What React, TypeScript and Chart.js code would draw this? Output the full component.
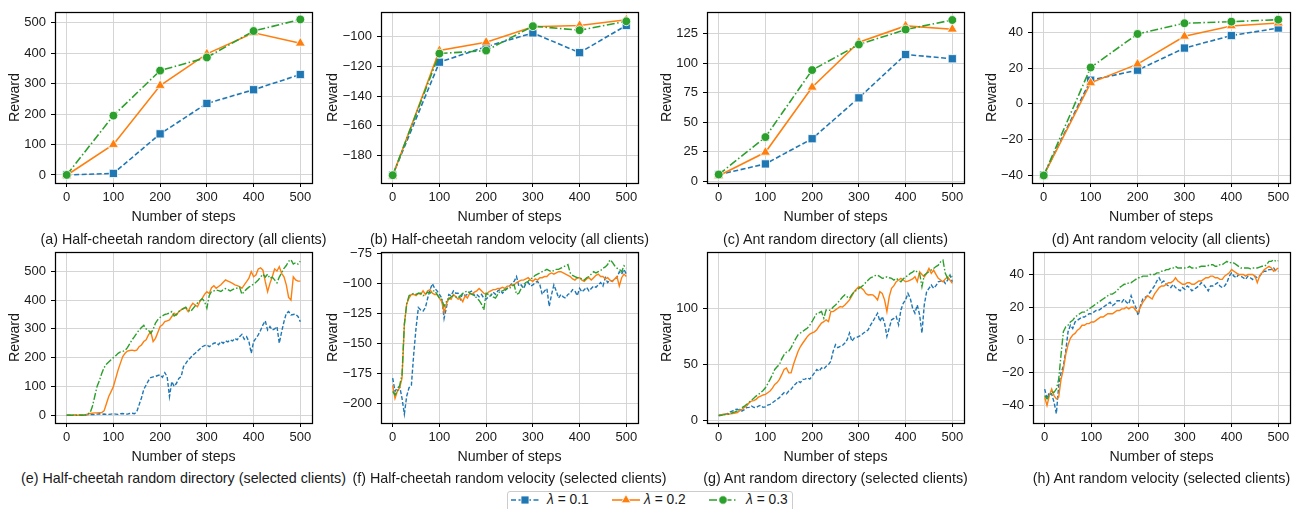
import React, { useEffect, useRef } from "react";
import { Chart, registerables } from "chart.js";

Chart.register(...registerables);

const FONT = '"Liberation Sans", Arial, Helvetica, sans-serif';
const BLUE = "#1f77b4";
const ORANGE = "#ff7f0e";
const GREEN = "#2ca02c";
const TEXT = "#1a1a1a";

// ---------- x axis ----------
const xTickValues = [0, 100, 200, 300, 400, 500];
const xTickLabels = ["0", "100", "200", "300", "400", "500"];
const coarseSteps = [0, 100, 200, 300, 400, 500];
const fineSteps = [
  0, 5, 10, 15, 20, 25, 30, 35, 40, 45, 50, 55, 60, 65, 70, 75, 80, 85, 90, 95,
  100, 105, 110, 115, 120, 125, 130, 135, 140, 145, 150, 155, 160, 165, 170, 175, 180, 185, 190, 195,
  200, 205, 210, 215, 220, 225, 230, 235, 240, 245, 250, 255, 260, 265, 270, 275, 280, 285, 290, 295,
  300, 305, 310, 315, 320, 325, 330, 335, 340, 345, 350, 355, 360, 365, 370, 375, 380, 385, 390, 395,
  400, 405, 410, 415, 420, 425, 430, 435, 440, 445, 450, 455, 460, 465, 470, 475, 480, 485, 490, 495,
  500,
];

// ---------- (a) Half-cheetah random directory (all clients) ----------
const aBlue = [0, 5, 135, 235, 280, 330];
const aOrange = [-1, 100, 294, 398, 467, 433];
const aGreen = [0, 195, 343, 386, 473, 511];
const aTicks = [0, 100, 200, 300, 400, 500];
const aTickLabels = ["0", "100", "200", "300", "400", "500"];

// ---------- (b) Half-cheetah random velocity (all clients) ----------
const bBlue = [-193, -117.4, -107, -97.8, -111, -92.8];
const bOrange = [-193.5, -109.6, -104, -93.7, -92.8, -89];
const bGreen = [-193, -111.6, -109.6, -93.3, -96, -90];
const bTicks = [-180, -160, -140, -120, -100];
const bTickLabels = ["\u2212180", "\u2212160", "\u2212140", "\u2212120", "\u2212100"];

// ---------- (c) Ant random directory (all clients) ----------
const cBlue = [5.5, 14.6, 36, 70.7, 107.5, 103.9];
const cOrange = [4.5, 24.5, 79.7, 118, 131.8, 129];
const cGreen = [5.6, 37.4, 94.3, 116, 128.7, 136.8];
const cTicks = [0, 25, 50, 75, 100, 125];
const cTickLabels = ["0", "25", "50", "75", "100", "125"];

// ---------- (d) Ant random velocity (all clients) ----------
const dBlue = [-40, 13.2, 18.8, 31.2, 38.2, 42.4];
const dOrange = [-40.2, 11.7, 22.2, 37.8, 43.6, 45.2];
const dGreen = [-40.2, 20.3, 39.1, 45.1, 46, 47.1];
const dTicks = [-40, -20, 0, 20, 40];
const dTickLabels = ["\u221240", "\u221220", "0", "20", "40"];

// ---------- (e) Half-cheetah random directory (selected clients) ----------
const eBlue = [
  0, 0, 0, 0, 0, 1, 0, 1, 1, 2,
  3, 2, 2, 4, 5, 3, 4, 3, 3, 4,
  5, 4, 3, 5, 6, 4, 4, 6, 7, 5,
  12, 36, 60, 90, 105, 120, 131, 133, 135, 138,
  140, 132, 148, 134, 65, 117, 100, 111, 128, 134,
  169, 180, 192, 200, 209, 215, 223, 230, 238, 242,
  244, 238, 244, 250, 252, 245, 256, 250, 259, 255,
  262, 258, 267, 262, 273, 281, 264, 273, 256, 215,
  256, 267, 279, 295, 314, 328, 296, 308, 296, 300,
  308, 250, 290, 325, 354, 360, 348, 350, 351, 343,
  325,
];
const eOrange = [
  0, 0, 0, 0, 0, 0, 1, 1, 2, 4,
  6, 7, 8, 8, 9, 9, 15, 40, 65, 82,
  100, 128, 157, 181, 204, 215, 223, 225, 226, 224,
  226, 238, 244, 256, 262, 279, 290, 256, 267, 287,
  308, 314, 325, 328, 331, 343, 354, 348, 360, 366,
  372, 372, 360, 377, 389, 383, 377, 395, 406, 420,
  429, 423, 443, 450, 441, 447, 453, 462, 470, 466,
  462, 458, 453, 450, 447, 441, 453, 464, 476, 499,
  481, 487, 508, 512, 504, 464, 429, 458, 481, 508,
  501, 516, 493, 481, 453, 409, 400, 481, 470, 466,
  466,
];
const eGreen = [
  0, 0, 0, 0, 0, 0, 0, 0, 1, 5,
  8, 30, 65, 100, 120, 145, 165, 177, 185, 193,
  200, 207, 215, 220, 222, 225, 235, 248, 262, 273,
  285, 296, 305, 312, 300, 295, 285, 298, 320, 332,
  340, 345, 350, 352, 355, 360, 345, 350, 360, 366,
  370, 375, 365, 360, 370, 380, 390, 398, 405, 395,
  372, 415, 430, 432, 435, 433, 430, 436, 440, 436,
  432, 436, 440, 442, 445, 420, 430, 438, 445, 450,
  455, 462, 470, 480, 490, 480, 490, 475, 480, 470,
  460, 480, 495, 510, 520, 535, 540, 525, 530, 525,
  535,
];
const eTicks = [0, 100, 200, 300, 400, 500];
const eTickLabels = ["0", "100", "200", "300", "400", "500"];

// ---------- (f) Half-cheetah random velocity (selected clients) ----------
const fBlue = [
  -179, -190, -187, -186, -196, -209, -194, -187, -185, -159,
  -137, -120, -122, -123, -120, -112, -105, -100, -104, -106,
  -109, -112, -129, -120, -109, -110, -106, -108, -108, -113,
  -108, -110, -109, -107, -106, -110, -109, -111, -109, -112,
  -113, -111, -110, -107, -109, -106, -105, -108, -106, -104,
  -102, -100, -98, -94, -102, -101, -104, -100, -99, -102,
  -101, -99, -98, -101, -109, -106, -104, -119, -109, -101,
  -106, -112, -109, -111, -112, -109, -108, -105, -106, -110,
  -104, -107, -105, -103, -106, -104, -102, -103, -101, -99,
  -102, -95, -99, -97, -98, -96, -95, -90, -92, -88,
  -92,
];
const fOrange = [
  -185, -196, -190, -187, -179, -134, -117, -112, -109, -109,
  -110, -108, -109, -106, -109, -106, -105, -108, -109, -109,
  -112, -115, -124, -117, -112, -113, -109, -111, -113, -112,
  -115, -110, -112, -108, -109, -107, -106, -104, -106, -108,
  -109, -107, -106, -105, -105, -104, -104, -103, -104, -102,
  -102, -101, -101, -99, -98, -97, -97, -96, -95, -97,
  -98, -96, -97, -95, -95, -94, -94, -92, -91, -92,
  -91, -90, -90, -91, -92, -93, -94, -96, -97, -95,
  -95, -97, -98, -96, -95, -97, -95, -93, -92, -94,
  -94, -96, -95, -97, -98, -96, -94, -102, -95, -92,
  -94,
];
const fGreen = [
  -190, -193, -190, -185, -176, -134, -117, -110, -109, -108,
  -109, -108, -108, -110, -109, -107, -108, -106, -106, -109,
  -112, -113, -119, -115, -113, -111, -110, -111, -112, -110,
  -108, -107, -106, -108, -109, -110, -112, -114, -117, -122,
  -108, -109, -109, -111, -112, -109, -106, -106, -105, -104,
  -104, -102, -101, -109, -108, -104, -101, -99, -98, -96,
  -95, -93, -92, -91, -90, -89, -88, -89, -90, -89,
  -88, -88, -87, -86, -85, -84, -91, -93, -94, -95,
  -95, -96, -97, -95, -94, -92, -90, -91, -90, -89,
  -87, -86, -84, -80, -82, -85, -87, -88, -90, -85,
  -87,
];
const fTicks = [-200, -175, -150, -125, -100, -75];
const fTickLabels = ["\u2212200", "\u2212175", "\u2212150", "\u2212125", "\u2212100", "\u221275"];

// ---------- (g) Ant random directory (selected clients) ----------
const gBlue = [
  4.4, 5, 5.3, 6, 6.5, 8, 8.8, 10, 10.3, 9,
  8.8, 10, 11.8, 12, 13.2, 12, 11.8, 13, 13.8, 12,
  12.4, 14, 14.7, 16, 17.6, 19, 20.6, 23, 25, 24,
  26.5, 28, 30.9, 33, 35.3, 34, 36.8, 37, 38.2, 37,
  39.7, 42.6, 45.6, 44, 47, 46, 48.5, 50, 53, 61.8,
  67.6, 65, 66.2, 67, 69.1, 72, 78, 70.6, 73.5, 74,
  75, 76, 78, 79, 80.9, 85, 88.2, 92, 95.6, 88.2,
  92.6, 86.8, 75, 82.4, 89.7, 91, 92.6, 85.3, 98.5, 104.4,
  107.4, 113.2, 108.8, 100, 95.6, 102.9, 94.1, 78, 102.9, 114.7,
  117.6, 120.6, 117.6, 120, 123.5, 124, 125, 122, 125, 129.4,
  123.5,
];
const gOrange = [
  5, 5.3, 5.9, 5.9, 5.9, 6.2, 6.5, 7, 7.4, 9,
  10.3, 12, 13.2, 16, 17.6, 18, 19.1, 21, 22, 23,
  23.5, 25, 26.5, 29, 32.4, 34, 36.8, 41, 45.6, 47,
  42.6, 42.6, 50, 56, 61.8, 66, 69.1, 72, 75, 77,
  78, 79, 80.9, 84, 86.8, 88, 89.7, 88.2, 97, 97,
  98.5, 100, 101.5, 101, 102.9, 105, 107.4, 111, 114.7, 117,
  119.1, 118, 116.2, 113, 111.8, 112, 111.8, 110, 107.4, 114.7,
  113.2, 107.4, 97, 110.3, 117.6, 120, 123.5, 125, 126.5, 125,
  123.5, 124, 125, 126, 127.9, 123.5, 132.4, 130, 127.9, 131,
  135.3, 130.9, 133.8, 130, 126.5, 125, 123.5, 126, 127.9, 125,
  122,
];
const gGreen = [
  5, 5.1, 5.3, 5.6, 5.9, 6.5, 7.4, 8, 8.8, 10,
  11.8, 13, 14.7, 16.5, 18.2, 20, 22, 23.5, 25, 27,
  29.4, 33, 36.8, 41, 45.6, 48, 50, 55, 58.8, 61,
  61.8, 65, 69.1, 73, 76.5, 78, 79.4, 81, 82.4, 85,
  88.2, 92, 95.6, 96, 97, 91.2, 98.5, 98, 98.5, 101,
  102.9, 105, 107.4, 110, 111.8, 110, 108.8, 112, 114.7, 116,
  117.6, 119, 120.6, 123, 125, 127, 127.9, 129, 129.4, 128,
  126.5, 127, 127.9, 127, 126.5, 125, 126.5, 125, 123.5, 126,
  127.9, 129, 130.9, 132, 133.8, 132, 130.9, 119.1, 129.4, 131,
  132.4, 134, 135.3, 137, 138.2, 141.2, 142.6, 130.9, 126.5, 129.4,
  127.9,
];
const gTicks = [0, 50, 100];
const gTickLabels = ["0", "50", "100"];

// ---------- (h) Ant random velocity (selected clients) ----------
const hBlue = [
  -30, -36, -32, -33, -38, -45, -28, -20, -16, -7,
  5, 9, 7, 11, 12, 13, 14, 14, 15, 16,
  16, 17, 18, 18, 19, 20, 21, 22, 23, 21,
  22, 24, 24, 23, 25, 23, 22, 27, 23, 20,
  15, 21, 25, 26, 27, 29, 31, 33, 36, 38,
  35, 36, 34, 33, 32, 34, 32, 31, 30, 32,
  31, 33, 32, 30, 31, 32, 33, 35, 34, 32,
  30, 33, 33, 34, 35, 33, 32, 33, 35, 39,
  41, 39, 38, 40, 39, 38, 37, 39, 38, 37,
  39, 38, 39, 41, 42, 42, 43, 43, 44, 42,
  42,
];
const hOrange = [
  -35, -40, -34, -30, -34, -36, -35, -24, -18, -9,
  -3, 1, 3, 4, 6, 7, 9, 9, 10, 10,
  11, 11, 12, 13, 14, 14, 15, 16, 16, 16,
  17, 18, 18, 19, 19, 20, 19, 20, 20, 18,
  17, 20, 23, 25, 27, 26, 25, 28, 30, 32,
  33, 33, 34, 35, 35, 36, 38, 36, 35, 34,
  34, 35, 35, 34, 34, 35, 36, 36, 37, 38,
  38, 39, 39, 38, 38, 37, 37, 39, 40, 41,
  43, 42, 41, 40, 40, 40, 39, 40, 40, 40,
  39, 35, 39, 41, 43, 44, 45, 44, 42, 43,
  44,
];
const hGreen = [
  -34, -36, -34, -32, -32, -30, -24, -9, 5, 8,
  9, 11, 12, 14, 15, 16, 17, 17, 18, 19,
  20, 21, 22, 23, 24, 25, 26, 27, 28, 28,
  29, 30, 32, 33, 34, 34, 35, 35, 36, 37,
  38, 38, 39, 39, 39, 40, 40, 40, 41, 41,
  42, 42, 43, 43, 44, 44, 45, 44, 44, 44,
  44, 44, 45, 44, 44, 44, 44.5, 45, 45, 45,
  45.5, 46, 46, 45, 45, 46, 46, 47, 48, 47,
  47.5, 47, 46, 45, 44, 44, 44, 44, 43.5, 44,
  44, 44, 44.5, 45, 45, 46, 48, 48, 49, 48,
  48.5,
];
const hTicks = [-40, -20, 0, 20, 40];
const hTickLabels = ["\u221240", "\u221220", "0", "20", "40"];

const seriesLabels = ["\u03bb = 0.1", "\u03bb = 0.2", "\u03bb = 0.3"];

const captions = [
  "(a) Half-cheetah random directory (all clients)",
  "(b) Half-cheetah random velocity (all clients)",
  "(c) Ant random directory (all clients)",
  "(d) Ant random velocity (all clients)",
  "(e) Half-cheetah random directory (selected clients)",
  "(f) Half-cheetah random velocity (selected clients)",
  "(g) Ant random directory (selected clients)",
  "(h) Ant random velocity (selected clients)",
];

type PanelDef = {
  caption: string;
  L: number; T: number; R: number; B: number;
  yw: number;
  yMin: number; yMax: number;
  yTicks: number[]; yTickLabels: string[];
  coarse: boolean;
  xs: number[];
  blue: number[]; orange: number[]; green: number[];
  capY: number;
};

const panels: PanelDef[] = [
  { caption: captions[0], L: 55, T: 12, R: 312, B: 183, yw: 55, yMin: -26.5, yMax: 535.5, yTicks: aTicks, yTickLabels: aTickLabels, coarse: true, xs: coarseSteps, blue: aBlue, orange: aOrange, green: aGreen, capY: 239 },
  { caption: captions[1], L: 381, T: 12, R: 638, B: 183, yw: 63, yMin: -198.2, yMax: -83.8, yTicks: bTicks, yTickLabels: bTickLabels, coarse: true, xs: coarseSteps, blue: bBlue, orange: bOrange, green: bGreen, capY: 239 },
  { caption: captions[2], L: 707, T: 12, R: 964, B: 183, yw: 55, yMin: -1.6, yMax: 143.6, yTicks: cTicks, yTickLabels: cTickLabels, coarse: true, xs: coarseSteps, blue: cBlue, orange: cOrange, green: cGreen, capY: 239 },
  { caption: captions[3], L: 1032, T: 12, R: 1290, B: 183, yw: 55, yMin: -44.4, yMax: 51.4, yTicks: dTicks, yTickLabels: dTickLabels, coarse: true, xs: coarseSteps, blue: dBlue, orange: dOrange, green: dGreen, capY: 239 },
  { caption: captions[4], L: 55, T: 252, R: 312, B: 423, yw: 55, yMin: -27, yMax: 567, yTicks: eTicks, yTickLabels: eTickLabels, coarse: false, xs: fineSteps, blue: eBlue, orange: eOrange, green: eGreen, capY: 478 },
  { caption: captions[5], L: 381, T: 252, R: 638, B: 423, yw: 63, yMin: -216.5, yMax: -73.5, yTicks: fTicks, yTickLabels: fTickLabels, coarse: false, xs: fineSteps, blue: fBlue, orange: fOrange, green: fGreen, capY: 478 },
  { caption: captions[6], L: 707, T: 252, R: 964, B: 423, yw: 55, yMin: -1.9, yMax: 149.9, yTicks: gTicks, yTickLabels: gTickLabels, coarse: false, xs: fineSteps, blue: gBlue, orange: gOrange, green: gGreen, capY: 478 },
  { caption: captions[7], L: 1033, T: 252, R: 1290, B: 423, yw: 55, yMin: -50.75, yMax: 53.75, yTicks: hTicks, yTickLabels: hTickLabels, coarse: false, xs: fineSteps, blue: hBlue, orange: hOrange, green: hGreen, capY: 478 },
];

const PAD_T = 16;
const PAD_R = 14;
const XH = 45;

const framePlugin = {
  id: "frame",
  afterDatasetsDraw(chart: any) {
    const { ctx, chartArea } = chart;
    const { left, top, right, bottom } = chartArea;
    ctx.save();
    ctx.strokeStyle = "#000";
    ctx.lineWidth = 1.25;
    ctx.strokeRect(Math.round(left) + 0.5, Math.round(top) + 0.5, Math.round(right - left), Math.round(bottom - top));
    ctx.restore();
  },
};

function Panel({ p }: { p: PanelDef }) {
  const ref = useRef<HTMLCanvasElement | null>(null);
  const width = p.R - p.L + p.yw + PAD_R;
  const height = p.B - p.T + PAD_T + XH;
  useEffect(() => {
    if (!ref.current) return;
    const lw = p.coarse ? 1.6 : 1.4;
    const dashBlue = p.coarse ? [5, 2.5] : [4, 2];
    const dashGreen = p.coarse ? [8, 2.5, 1.5, 2.5] : [7, 2, 1.5, 2];
    const mk = (vals: number[], color: string, style: string, radius: number, dash: number[], order: number, label: string) => ({
      label,
      data: p.xs.map((x, i) => ({ x, y: vals[i] })),
      borderColor: color,
      backgroundColor: color,
      borderWidth: lw,
      borderDash: dash,
      pointStyle: style,
      pointRadius: p.coarse ? radius : 0,
      pointHoverRadius: 0,
      pointBackgroundColor: color,
      pointBorderColor: "#ffffff",
      pointBorderWidth: 0.8,
      tension: 0,
      fill: false,
      order,
    });
    const tickFont = { family: FONT, size: 13 };
    const titleFont = { family: FONT, size: 14.2 };
    const chart = new Chart(ref.current, {
      type: "line",
      data: {
        datasets: [
          mk(p.blue, BLUE, "rect", 5.8, dashBlue, 2, seriesLabels[0]),
          mk(p.orange, ORANGE, "triangle", 5.8, [], 1, seriesLabels[1]),
          mk(p.green, GREEN, "circle", 4.4, dashGreen, 0, seriesLabels[2]),
        ] as any,
      },
      options: {
        animation: false,
        responsive: false,
        devicePixelRatio: 1,
        events: [],
        layout: { padding: { top: PAD_T, right: PAD_R, left: 0, bottom: 0 } },
        plugins: { legend: { display: false }, tooltip: { enabled: false }, title: { display: false } },
        scales: {
          x: {
            type: "linear",
            min: -25,
            max: 525,
            afterBuildTicks: (s: any) => {
              s.ticks = xTickValues.map((v) => ({ value: v }));
            },
            afterFit: (s: any) => {
              s.height = XH;
            },
            ticks: {
              autoSkip: false,
              maxRotation: 0,
              minRotation: 0,
              padding: 3,
              color: TEXT,
              font: tickFont,
              callback: (v: any) => xTickLabels[xTickValues.indexOf(Number(v))],
            },
            grid: { color: "#d5d5d5", lineWidth: 1, drawTicks: true, tickLength: 4, tickColor: "#000", tickWidth: 1 },
            border: { display: false },
            title: { display: true, text: "Number of steps", color: TEXT, font: titleFont, padding: { top: 0, bottom: 2.4 } },
          },
          y: {
            type: "linear",
            min: p.yMin,
            max: p.yMax,
            afterBuildTicks: (s: any) => {
              s.ticks = p.yTicks.map((v) => ({ value: v }));
            },
            afterFit: (s: any) => {
              s.width = p.yw;
            },
            ticks: {
              autoSkip: false,
              padding: 5,
              color: TEXT,
              font: tickFont,
              callback: (v: any) => p.yTickLabels[p.yTicks.indexOf(Number(v))],
            },
            grid: { color: "#d5d5d5", lineWidth: 1, drawTicks: true, tickLength: 4, tickColor: "#000", tickWidth: 1 },
            border: { display: false },
            title: { display: true, text: "Reward", color: TEXT, font: titleFont, padding: { top: 6.4, bottom: 0 } },
          },
        },
      } as any,
      plugins: [framePlugin],
    });
    return () => chart.destroy();
  }, []);
  return (
    <canvas
      ref={ref}
      width={width}
      height={height}
      style={{ position: "absolute", left: p.L - p.yw, top: p.T - PAD_T, width, height }}
    />
  );
}

function LegendSample({ color, dash, marker }: { color: string; dash: string; marker: string }) {
  return (
    <svg width={28} height={12} style={{ display: "block" }}>
      <line x1={0} y1={6} x2={28} y2={6} stroke={color} strokeWidth={1.6} strokeDasharray={dash} />
      {marker === "rect" && <rect x={10} y={2} width={8} height={8} fill={color} stroke="#fff" strokeWidth={0.8} />}
      {marker === "triangle" && <polygon points="14,0.5 18.8,8.8 9.2,8.8" fill={color} stroke="#fff" strokeWidth={0.8} />}
      {marker === "circle" && <circle cx={14} cy={6} r={4.2} fill={color} stroke="#fff" strokeWidth={0.8} />}
    </svg>
  );
}

export default function App() {
  const items = [
    { color: BLUE, dash: "5 2.5", marker: "rect", lineX: 511, textX: 547 },
    { color: ORANGE, dash: "", marker: "triangle", lineX: 612, textX: 644 },
    { color: GREEN, dash: "8 2.5 1.5 2.5", marker: "circle", lineX: 709, textX: 746 },
  ];
  return (
    <div
      style={{
        position: "absolute",
        left: 0,
        top: 0,
        width: 1301,
        height: 509,
        overflow: "hidden",
        background: "#fff",
        fontFamily: FONT,
        color: TEXT,
      }}
    >
      {panels.map((p, i) => (
        <Panel key={i} p={p} />
      ))}
      {panels.map((p, i) => (
        <div
          key={"c" + i}
          style={{
            position: "absolute",
            left: (p.L + p.R) / 2 - 200,
            width: 400,
            top: p.capY - 9,
            height: 18,
            lineHeight: "18px",
            textAlign: "center",
            fontSize: 14.3,
            whiteSpace: "nowrap",
          }}
        >
          {p.caption}
        </div>
      ))}
      <div
        style={{
          position: "absolute",
          left: 507,
          top: 491,
          width: 286,
          height: 28,
          border: "1px solid #cccccc",
          borderRadius: 3,
          background: "#fff",
          boxSizing: "border-box",
        }}
      />
      {items.map((it, i) => (
        <React.Fragment key={"l" + i}>
          <div style={{ position: "absolute", left: it.lineX, top: 494 }}>
            <LegendSample color={it.color} dash={it.dash} marker={it.marker} />
          </div>
          <div
            style={{
              position: "absolute",
              left: it.textX,
              top: 491,
              height: 18,
              lineHeight: "18px",
              fontSize: 13.8,
              whiteSpace: "nowrap",
            }}
          >
            <i>{"\u03bb"}</i>
            {seriesLabels[i].slice(1)}
          </div>
        </React.Fragment>
      ))}
    </div>
  );
}
